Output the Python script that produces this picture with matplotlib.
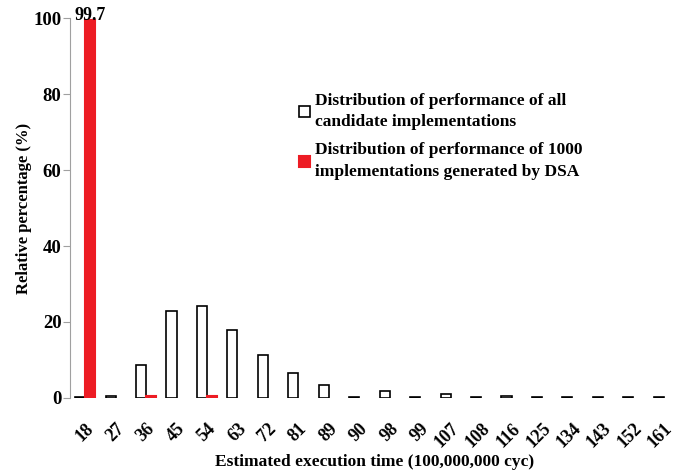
import numpy as np
import matplotlib
matplotlib.use("Agg")
import matplotlib.pyplot as plt

# данные
categories = ["18", "27", "36", "45", "54", "63", "72", "81", "89", "90",
              "98", "99", "107", "108", "116", "125", "134", "143", "152", "161"]
all_impl = [0.2, 0.5, 8.6, 22.8, 24.3, 17.8, 11.3, 6.6, 3.5, 0.3,
            1.8, 0.2, 1.0, 0.2, 0.6, 0.3, 0.3, 0.2, 0.2, 0.2]
dsa_impl = [99.7, 0.0, 0.4, 0.0, 0.4, 0.0, 0.0, 0.0, 0.0, 0.0,
            0.0, 0.0, 0.0, 0.0, 0.0, 0.0, 0.0, 0.0, 0.0, 0.0]

plt.rcParams['font.family'] = ['Liberation Serif', 'DejaVu Serif']
plt.rcParams['font.weight'] = 'bold'

fig = plt.figure(figsize=(6.79, 4.72), dpi=100)
ax = fig.add_axes([0.103, 0.157, 0.897, 0.804])

x = np.arange(len(categories))
w = 0.33
ax.bar(x - w / 2, all_impl, w, color='white', edgecolor='black', linewidth=1.2,
       label='Distribution of performance of all\ncandidate implementations')
# у нулевых столбцов обводку не рисуем
red_lw = [1.5 if v > 0 else 0 for v in dsa_impl]
ax.bar(x + w / 2, dsa_impl, w, color='#ed1c24', edgecolor='#ed1c24', linewidth=red_lw,
       label='Distribution of performance of 1000\nimplementations generated by DSA')

ax.text(x[0] + w / 2, dsa_impl[0] - 1.2, "99.7", ha='center', va='bottom',
        fontsize=13, fontweight='bold')

ax.set_xlim(-0.5, len(categories) - 0.5)
ax.set_ylim(0, 100)
ax.set_yticks([0, 20, 40, 60, 80, 100])
ax.set_xticks(x)
ax.set_xticklabels(categories, rotation=45, ha='right', rotation_mode='anchor',
                   fontsize=13, fontweight='bold')
ax.tick_params(axis='x', length=0, pad=16)
ax.tick_params(axis='y', labelsize=13.5, colors='black', direction='out',
               length=5, pad=1)
for lbl in ax.get_yticklabels():
    lbl.set_fontweight('bold')

for s in ['top', 'right', 'bottom']:
    ax.spines[s].set_visible(False)
ax.spines['left'].set_color('#a0a0a0')
ax.tick_params(axis='y', color='#a0a0a0')

ax.set_ylabel("Relative percentage (%)", fontsize=12, fontweight='bold', labelpad=1)
ax.set_xlabel("Estimated execution time (100,000,000 cyc)", fontsize=12.5,
              fontweight='bold', labelpad=2)

leg = ax.legend(loc='upper left', bbox_to_anchor=(0.365, 0.822), frameon=False,
                prop={'size': 12.5, 'weight': 'bold'}, handlelength=0.6,
                handleheight=0.6, handletextpad=0.3, labelspacing=0.7,
                borderaxespad=0)
for t in leg.get_texts():
    t.set_linespacing(1.45)

plt.savefig("out.png", dpi=100)
